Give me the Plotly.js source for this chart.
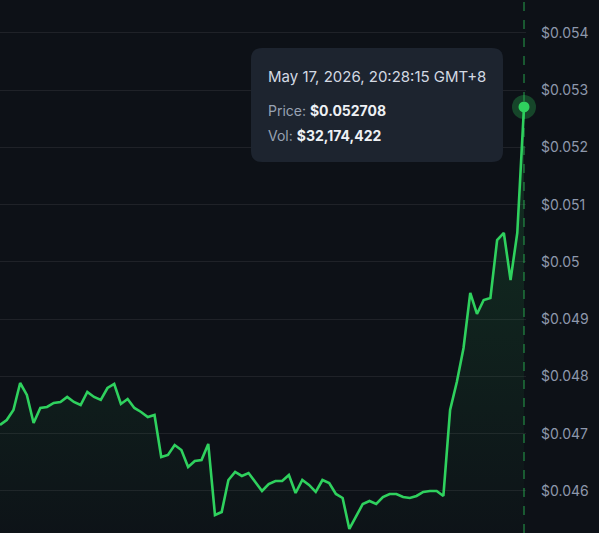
<!DOCTYPE html>
<html>
<head>
<meta charset="utf-8">
<script src="https://cdn.plot.ly/plotly-3.0.1.min.js"></script>
<style>
html,body{margin:0;padding:0;background:#0d1117;}
#chart{width:599px;height:533px;}
</style>
</head>
<body>
<div id="chart"></div>
<script>
// Sample index (time step) and price series
const steps = [0,1,2,3,4,5,6,7,8,9,10,11,12,13,14,15,16,17,18,19,20,21,22,23,24,25,26,27,28,29,30,31,32,33,34,35,36,37,38,39,40,41,42,43,44,45,46,47,48,49,50,51,52,53,54,55,56,57,58,59,60,61,62,63,64,65,66,67,68,69,70,71,72,73,74,75,76,77,78];
const prices = [0.047153,0.047240,0.047415,0.047886,0.047677,0.047188,0.047450,0.047467,0.047537,0.047555,
0.047642,0.047555,0.047502,0.047729,0.047642,0.047590,0.047799,0.047869,0.047520,0.047607,
0.047450,0.047380,0.047293,0.047328,0.046594,0.046629,0.046803,0.046716,0.046419,0.046524,
0.046541,0.046821,0.045581,0.045633,0.046192,0.046332,0.046262,0.046314,0.046157,0.046000,
0.046122,0.046175,0.046175,0.046279,0.045965,0.046192,0.046105,0.045983,0.046192,0.046140,
0.045948,0.045878,0.045336,0.045546,0.045773,0.045825,0.045773,0.045895,0.045948,0.045948,
0.045895,0.045878,0.045913,0.045983,0.046000,0.046000,0.045913,0.047415,0.047904,0.048498,
0.049459,0.049092,0.049336,0.049371,0.050384,0.050507,0.049686,0.050507,0.052708];
const tickValues = [0.046,0.047,0.048,0.049,0.050,0.051,0.052,0.053,0.054];
const tickLabels = ["$0.046","$0.047","$0.048","$0.049","$0.05","$0.051","$0.052","$0.053","$0.054"];
const tipDate = "May 17, 2026, 20:28:15 GMT+8";
const tipPrice = "$0.052708";
const tipVol = "$32,174,422";

const green = '#2fd15e';
const lastX = steps[steps.length-1];
const lastY = prices[prices.length-1];

const W = 599, H = 533, mR = 73;
const plotW = W - mR;
const px = (v)=> v/plotW;          // pixel -> paper x
const py = (v)=> 1 - v/H;          // pixel -> paper y

// rounded tooltip box path in paper coords
function roundRect(x0,y0,x1,y1,r){
  const X0=px(x0),X1=px(x1),Y0=py(y0),Y1=py(y1);
  const rx=r/plotW, ry=r/H;
  return `M ${X0+rx},${Y0} L ${X1-rx},${Y0} Q ${X1},${Y0} ${X1},${Y0-ry} L ${X1},${Y1+ry} Q ${X1},${Y1} ${X1-rx},${Y1} L ${X0+rx},${Y1} Q ${X0},${Y1} ${X0},${Y1+ry} L ${X0},${Y0-ry} Q ${X0},${Y0} ${X0+rx},${Y0} Z`;
}

const traces = [
  {
    x: steps, y: prices, type:'scatter', mode:'lines',
    line:{color:green, width:2.6, shape:'linear'},
    fill:'tozeroy',
    fillgradient:{type:'vertical', start:0.0452, stop:0.0528,
      colorscale:[[0,'rgba(47,209,94,0.01)'],[1,'rgba(47,209,94,0.17)']]},
    hoverinfo:'skip'
  },
  {
    x:[lastX], y:[lastY], type:'scatter', mode:'markers', cliponaxis:false,
    marker:{size:24, color:'rgba(47,209,94,0.28)', line:{width:0}},
    hoverinfo:'skip'
  },
  {
    x:[lastX], y:[lastY], type:'scatter', mode:'markers', cliponaxis:false,
    marker:{size:11, color:green, line:{width:0}},
    hoverinfo:'skip'
  }
];

const layout = {
  width:W, height:H,
  paper_bgcolor:'#0d1117', plot_bgcolor:'#0d1117',
  margin:{l:0, r:mR, t:0, b:0},
  showlegend:false,
  font:{family:'Inter, "Noto Sans", sans-serif', color:'#8e98ac', size:14},
  xaxis:{range:[0, plotW/(524/78)], showgrid:false, zeroline:false, showticklabels:false, showline:false, fixedrange:true},
  yaxis:{side:'right', range:[0.045266, 0.054576], tickvals:tickValues, ticktext:tickLabels,
    showgrid:true, gridcolor:'rgba(255,255,255,0.075)', gridwidth:1, zeroline:false, showline:false,
    ticks:'', ticklabelstandoff:14, tickfont:{size:14, color:'#8e98ac'}},
  shapes:[
    {type:'line', xref:'x', yref:'paper', x0:lastX, x1:lastX, y0:0, y1:1,
     line:{color:'rgba(47,209,94,0.75)', width:1, dash:'dash'}, layer:'above'},
    {type:'path', xref:'paper', yref:'paper', path:roundRect(251,48,503,162,11),
     fillcolor:'#1d242f', line:{width:0}, layer:'above'}
  ],
  annotations:[
    {xref:'paper', yref:'paper', x:px(266), y:py(76), xanchor:'left', yanchor:'middle', showarrow:false,
     text:tipDate, font:{size:15, color:'#d3d9e3', family:'Inter, sans-serif'}},
    {xref:'paper', yref:'paper', x:px(266), y:py(110), xanchor:'left', yanchor:'middle', showarrow:false,
     text:'<span style="color:#98a2b3">Price: </span><b>'+tipPrice+'</b>', font:{size:14, color:'#eef1f5', family:'Inter, sans-serif'}},
    {xref:'paper', yref:'paper', x:px(266), y:py(135), xanchor:'left', yanchor:'middle', showarrow:false,
     text:'<span style="color:#98a2b3">Vol: </span><b>'+tipVol+'</b>', font:{size:14, color:'#eef1f5', family:'Inter, sans-serif'}}
  ]
};

Plotly.newPlot('chart', traces, layout, {displayModeBar:false, staticPlot:true});
</script>
</body>
</html>
